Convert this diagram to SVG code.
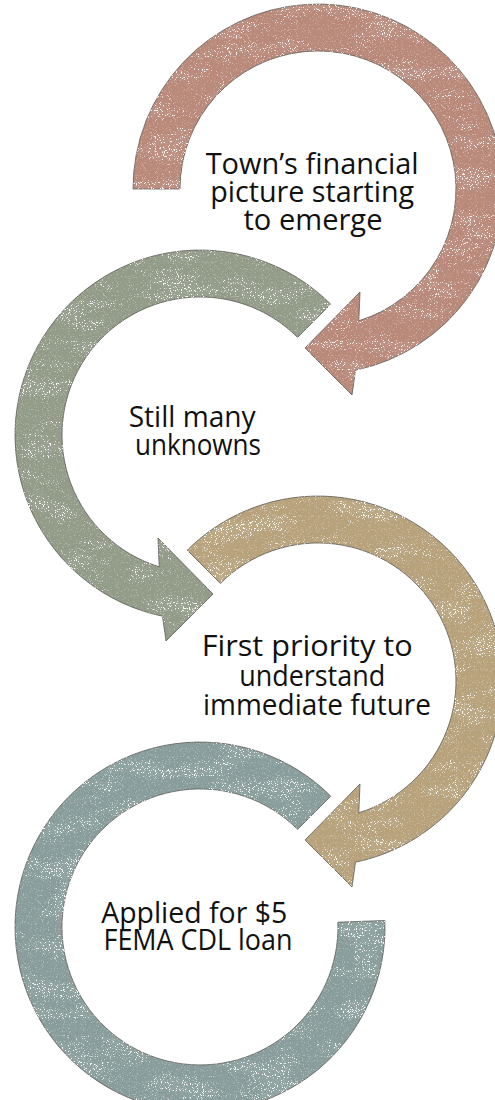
<svg xmlns="http://www.w3.org/2000/svg" width="495" height="1100" viewBox="0 0 495 1100">
  <defs>
    <style>
      .band { stroke: #5a5a55; stroke-width: 0.8; stroke-linejoin: miter; filter: url(#grunge); }
      .rose { fill: #b9897a; }
      .sage { fill: #939b89; }
      .sand { fill: #b7a27c; }
      .slate { fill: #899e9c; }
      .label { font-family: "Open Sans", "Noto Sans", "DejaVu Sans", sans-serif; font-size: 29.5px; fill: #111; text-anchor: middle; font-variant-ligatures: none; }
    </style>
    <!-- worn, speckled paint finish for the arrow bands -->
    <filter id="grunge" color-interpolation-filters="sRGB">
      <feTurbulence type="fractalNoise" baseFrequency="0.85" numOctaves="2" seed="7" result="fine"/>
      <feColorMatrix in="fine" type="matrix" values="0 0 0 0 1  0 0 0 0 1  0 0 0 0 1  9 0 0 0 -5.45" result="specks"/>
      <feTurbulence type="fractalNoise" baseFrequency="0.02 0.05" numOctaves="3" seed="11" result="coarse"/>
      <feColorMatrix in="coarse" type="matrix" values="0 0 0 0 1  0 0 0 0 1  0 0 0 0 1  4 0 0 0 -1.8" result="patches"/>
      <feComposite in="specks" in2="patches" operator="arithmetic" k1="1.3" k2="0.3" k3="0.07" k4="0" result="white"/>
      <feComposite in="white" in2="SourceAlpha" operator="in" result="wear"/>
      <feMerge>
        <feMergeNode in="SourceGraphic"/>
        <feMergeNode in="wear"/>
      </feMerge>
    </filter>
  </defs>

  <rect width="495" height="1100" fill="#ffffff"/>

  <!-- step 1: clockwise arrow, centre (318,189) -->
  <g id="step1">
    <path class="band rose" d="M133,189 A185,185 0 1 1 355.5,370.2 L352,395 L305,348 L360,292 L358.8,320.8 A138,138 0 1 0 180,189 Z"/>
    <text class="label">
      <tspan x="316" y="174" textLength="213" lengthAdjust="spacingAndGlyphs">Town’s financial</tspan>
      <tspan x="316" y="202" textLength="204" lengthAdjust="spacingAndGlyphs">picture starting</tspan>
      <tspan x="313" y="230" textLength="139" lengthAdjust="spacingAndGlyphs">to emerge</tspan>
    </text>
  </g>

  <!-- step 2: counter-clockwise arrow, centre (200,435) -->
  <g id="step2">
    <path class="band sage" d="M330.8,304.2 A185,185 0 1 0 162.5,616.2 L166,641 L213,594 L158,538 L159.2,566.8 A138,138 0 1 1 297.6,337.4 Z"/>
    <text class="label">
      <tspan x="196" y="427" textLength="127" lengthAdjust="spacingAndGlyphs">Still many</tspan>
      <tspan x="198" y="455" textLength="126" lengthAdjust="spacingAndGlyphs">unknowns</tspan>
    </text>
  </g>

  <!-- step 3: clockwise arrow, centre (318,681) -->
  <g id="step3">
    <path class="band sand" d="M187.2,550.2 A185,185 0 1 1 355.5,862.2 L352,887 L305,840 L360,784 L358.8,812.8 A138,138 0 1 0 220.4,583.4 Z"/>
    <text class="label">
      <tspan x="311" y="656" textLength="211" lengthAdjust="spacingAndGlyphs">First priority to</tspan>
      <tspan x="316" y="686" textLength="146" lengthAdjust="spacingAndGlyphs">understand</tspan>
      <tspan x="317" y="715" textLength="228" lengthAdjust="spacingAndGlyphs">immediate future</tspan>
    </text>
  </g>

  <!-- step 4: open ring without a head, centre (200,927) -->
  <g id="step4">
    <path class="band slate" d="M330.8,796.2 A185,185 0 1 0 384.9,920.5 L337.9,922.2 A138,138 0 1 1 297.6,829.4 Z"/>
    <text class="label">
      <tspan x="198" y="923" textLength="186" lengthAdjust="spacingAndGlyphs">Applied for $5</tspan>
      <tspan x="198" y="950" textLength="189" lengthAdjust="spacingAndGlyphs">FEMA CDL loan</tspan>
    </text>
  </g>
</svg>
